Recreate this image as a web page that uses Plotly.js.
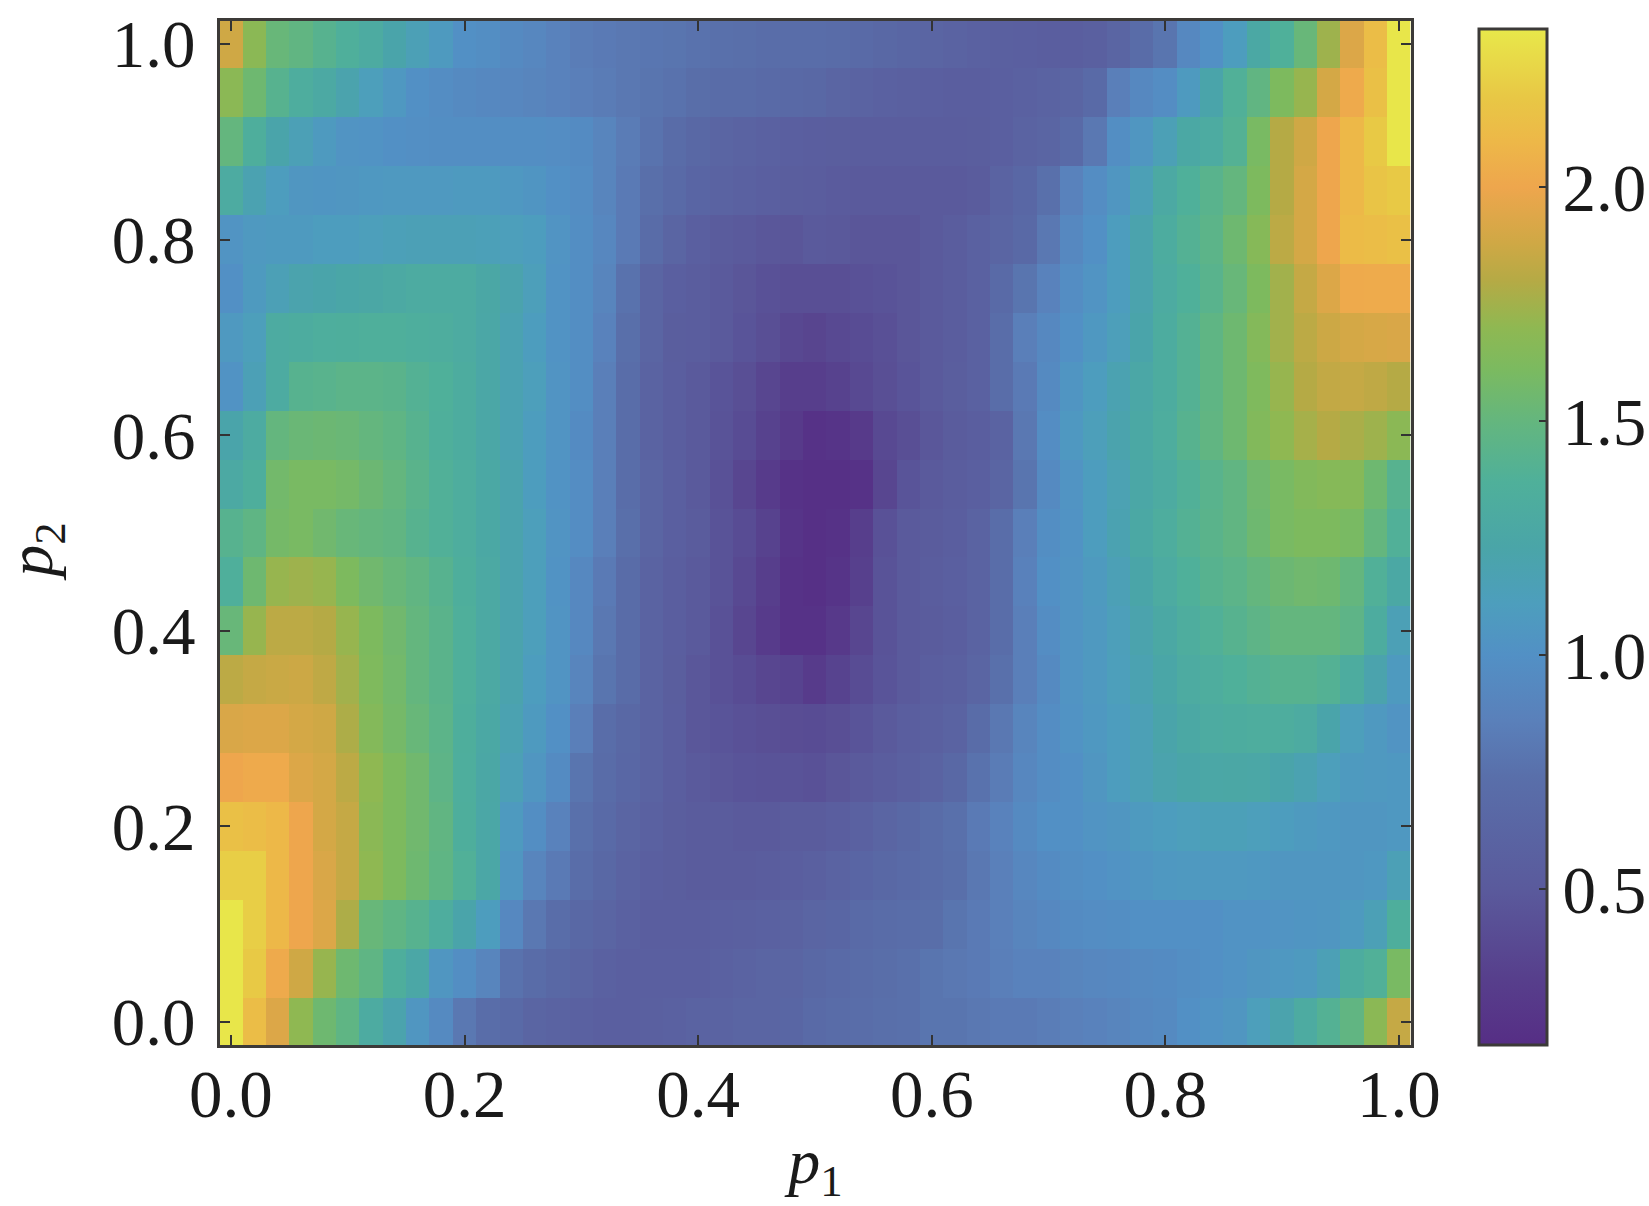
<!DOCTYPE html>
<html>
<head>
<meta charset="utf-8">
<script src="https://cdn.plot.ly/plotly-3.0.1.min.js"></script>
<style>html,body{margin:0;padding:0;background:#fff}</style>
</head>
<body>
<div id="chart" style="width:1649px;height:1206px"></div>
<script>
const p1Values = [0,.02,.04,.06,.08,.1,.12,.14,.16,.18,.2,.22,.24,.26,.28,.3,.32,.34,.36,.38,.4,.42,.44,.46,.48,.5,.52,.54,.56,.58,.6,.62,.64,.66,.68,.7,.72,.74,.76,.78,.8,.82,.84,.86,.88,.9,.92,.94,.96,.98,1];
const p2Values = [1,.95,.9,.85,.8,.75,.7,.65,.6,.55,.5,.45,.4,.35,.3,.25,.2,.15,.1,.05,0];
const surface = [
[1.88,1.68,1.52,1.48,1.42,1.36,1.3,1.22,1.15,1.08,1.0,.98,.95,.92,.88,.84,.82,.8,.79,.78,.76,.75,.74,.72,.72,.72,.7,.68,.66,.64,.62,.6,.58,.57,.56,.55,.55,.57,.62,.7,.78,.93,1.0,1.1,1.27,1.37,1.52,1.74,1.93,2.13,2.33],
[1.68,1.55,1.42,1.33,1.28,1.2,1.12,1.06,1.0,.97,.95,.93,.92,.9,.88,.85,.83,.8,.78,.76,.73,.71,.7,.68,.67,.66,.62,.6,.58,.57,.56,.55,.55,.56,.58,.6,.62,.68,.85,.93,.97,1.08,1.22,1.38,1.48,1.62,1.72,1.9,2.02,2.15,2.33],
[1.5,1.35,1.22,1.15,1.08,1.03,1.02,1.0,.99,.98,.98,.98,.98,.98,.97,.96,.9,.83,.77,.7,.66,.62,.6,.58,.56,.55,.54,.53,.53,.53,.53,.53,.54,.56,.6,.62,.68,.8,.98,1.05,1.15,1.27,1.3,1.4,1.6,1.8,1.88,2.0,2.1,2.2,2.33],
[1.3,1.18,1.1,1.05,1.04,1.05,1.06,1.07,1.07,1.07,1.08,1.08,1.06,1.04,1.0,.97,.9,.82,.74,.68,.63,.6,.58,.56,.54,.53,.51,.5,.5,.5,.5,.5,.52,.6,.65,.75,.88,.97,1.05,1.15,1.28,1.37,1.43,1.5,1.62,1.8,1.9,2.0,2.1,2.17,2.2],
[1.03,1.07,1.08,1.08,1.1,1.1,1.12,1.14,1.15,1.15,1.15,1.14,1.12,1.1,1.03,.98,.92,.82,.7,.62,.56,.52,.5,.48,.47,.5,.49,.47,.47,.47,.5,.53,.58,.62,.67,.8,.93,1.0,1.1,1.2,1.32,1.4,1.45,1.55,1.66,1.82,1.9,2.0,2.12,2.13,2.15],
[1.0,1.08,1.15,1.2,1.22,1.24,1.26,1.28,1.3,1.3,1.3,1.26,1.2,1.13,1.02,.98,.9,.76,.62,.56,.53,.5,.47,.44,.42,.42,.42,.44,.45,.47,.5,.53,.58,.68,.78,.88,.97,1.03,1.1,1.2,1.3,1.37,1.43,1.52,1.62,1.75,1.85,1.93,2.02,2.03,2.03],
[1.07,1.12,1.3,1.32,1.34,1.35,1.36,1.36,1.34,1.33,1.3,1.25,1.18,1.1,1.02,.98,.88,.74,.62,.54,.53,.5,.46,.42,.37,.35,.38,.4,.43,.47,.5,.53,.58,.72,.85,.93,1.0,1.06,1.13,1.22,1.32,1.4,1.47,1.55,1.65,1.75,1.82,1.87,1.9,1.91,1.92],
[1.02,1.15,1.3,1.42,1.43,1.45,1.45,1.44,1.4,1.37,1.32,1.25,1.18,1.12,1.03,.98,.85,.72,.6,.55,.5,.46,.42,.36,.3,.3,.33,.38,.42,.46,.5,.54,.58,.72,.82,.95,1.04,1.1,1.18,1.25,1.32,1.4,1.47,1.55,1.63,1.72,1.8,1.84,1.85,1.83,1.8],
[1.22,1.3,1.5,1.53,1.54,1.53,1.5,1.47,1.42,1.36,1.32,1.25,1.18,1.1,1.03,.96,.85,.72,.6,.55,.5,.45,.4,.33,.27,.2,.22,.27,.38,.42,.48,.52,.55,.6,.8,.97,1.06,1.13,1.2,1.27,1.33,1.42,1.48,1.55,1.64,1.7,1.76,1.8,1.77,1.74,1.68],
[1.28,1.35,1.57,1.6,1.6,1.58,1.54,1.5,1.44,1.38,1.33,1.27,1.2,1.1,1.02,.97,.85,.72,.62,.56,.5,.44,.36,.28,.2,.18,.18,.2,.36,.46,.5,.53,.56,.62,.78,.95,1.03,1.1,1.17,1.25,1.3,1.38,1.43,1.48,1.56,1.6,1.64,1.66,1.66,1.55,1.42],
[1.42,1.47,1.58,1.6,1.56,1.52,1.5,1.48,1.42,1.38,1.33,1.27,1.2,1.12,1.03,.97,.85,.74,.62,.56,.52,.45,.4,.33,.22,.18,.2,.3,.44,.5,.52,.55,.6,.72,.85,.98,1.02,1.1,1.18,1.27,1.33,1.4,1.44,1.48,1.55,1.6,1.62,1.62,1.6,1.5,1.38],
[1.36,1.55,1.72,1.74,1.72,1.62,1.56,1.52,1.48,1.42,1.35,1.28,1.2,1.12,1.02,.93,.82,.7,.6,.55,.5,.45,.38,.3,.2,.18,.22,.32,.45,.5,.53,.56,.6,.72,.87,1.0,1.03,1.08,1.15,1.23,1.3,1.37,1.42,1.45,1.5,1.54,1.56,1.55,1.5,1.38,1.27],
[1.52,1.72,1.82,1.82,1.8,1.72,1.62,1.56,1.5,1.44,1.36,1.28,1.2,1.12,1.03,.93,.8,.7,.6,.55,.5,.44,.36,.28,.2,.2,.26,.36,.45,.5,.52,.55,.6,.72,.85,.97,1.03,1.07,1.13,1.2,1.27,1.33,1.38,1.42,1.46,1.5,1.5,1.5,1.46,1.32,1.15],
[1.82,1.85,1.86,1.87,1.83,1.75,1.63,1.57,1.5,1.44,1.36,1.28,1.2,1.1,1.03,.9,.78,.7,.6,.54,.48,.44,.4,.36,.34,.28,.34,.4,.46,.5,.55,.57,.62,.75,.85,.95,1.03,1.07,1.12,1.18,1.24,1.3,1.33,1.37,1.4,1.42,1.42,1.4,1.32,1.2,1.08],
[1.92,1.93,1.93,1.9,1.88,1.78,1.65,1.58,1.52,1.45,1.35,1.27,1.18,1.08,1.0,.85,.72,.66,.6,.55,.48,.46,.44,.42,.41,.4,.42,.46,.5,.55,.57,.6,.7,.8,.9,.97,1.02,1.06,1.1,1.15,1.22,1.27,1.3,1.32,1.33,1.33,1.3,1.22,1.12,1.07,1.03],
[2.0,2.02,2.02,1.93,1.9,1.82,1.7,1.62,1.56,1.46,1.34,1.26,1.15,1.05,.96,.78,.7,.65,.6,.55,.5,.48,.46,.45,.45,.44,.47,.5,.53,.57,.6,.66,.76,.83,.92,.97,1.0,1.05,1.1,1.15,1.2,1.23,1.25,1.26,1.25,1.22,1.18,1.12,1.08,1.07,1.06],
[2.15,2.13,2.1,2.0,1.9,1.85,1.68,1.62,1.56,1.48,1.35,1.25,1.08,.98,.88,.75,.68,.62,.58,.54,.52,.52,.5,.5,.52,.52,.55,.58,.62,.66,.7,.75,.82,.88,.95,1.0,1.0,1.03,1.05,1.08,1.1,1.12,1.14,1.14,1.12,1.1,1.08,1.06,1.05,1.05,1.06],
[2.22,2.22,2.1,2.0,1.92,1.85,1.7,1.62,1.55,1.47,1.38,1.25,1.05,.9,.82,.72,.66,.6,.56,.54,.52,.52,.52,.53,.55,.57,.6,.63,.66,.68,.7,.74,.8,.86,.92,.96,.98,1.0,1.02,1.04,1.06,1.07,1.07,1.07,1.06,1.05,1.05,1.05,1.05,1.06,1.15],
[2.33,2.22,2.1,2.0,1.93,1.78,1.52,1.47,1.42,1.33,1.22,1.1,.93,.8,.72,.66,.62,.58,.55,.55,.55,.56,.57,.58,.59,.62,.64,.68,.7,.72,.73,.78,.82,.86,.9,.93,.96,.97,.98,1.0,1.0,1.0,1.0,1.02,1.02,1.03,1.04,1.05,1.08,1.15,1.35],
[2.33,2.2,2.02,1.88,1.72,1.55,1.47,1.35,1.25,1.05,.98,.9,.76,.7,.66,.62,.58,.56,.56,.56,.56,.58,.6,.62,.62,.66,.68,.7,.73,.75,.78,.8,.82,.85,.88,.88,.9,.92,.93,.95,.96,.98,1.0,1.02,1.05,1.06,1.08,1.15,1.32,1.38,1.6],
[2.33,2.13,1.93,1.7,1.55,1.47,1.3,1.2,1.05,.95,.8,.72,.68,.62,.6,.58,.56,.56,.57,.58,.6,.6,.62,.62,.64,.68,.7,.72,.74,.75,.78,.78,.8,.82,.82,.84,.86,.88,.9,.93,.95,1.0,1.02,1.05,1.12,1.2,1.3,1.4,1.48,1.68,1.85]
];
const xTickVals = [0,.2,.4,.6,.8,1];
const xTickText = ['0.0','0.2','0.4','0.6','0.8','1.0'];
const yTickVals = [0,.2,.4,.6,.8,1];
const yTickText = ['0.0','0.2','0.4','0.6','0.8','1.0'];
const barTickVals = [.5,1,1.5,2];
const barTickText = ['0.5','1.0','1.5','2.0'];
const zMin = 0.167, zMax = 2.338;
const stopValues = [0.167,0.31,0.5,0.74,0.86,1.0,1.11,1.23,1.37,1.5,1.61,1.7,1.8,1.88,2.0,2.1,2.19,2.338];
const stopColors = ['#562e85','#573f8c','#5a5a9c','#596faa','#5a80ba','#5290c5','#4d9ebd','#4aa5a8','#4fb09a','#64b67e','#7bba60','#8fb852','#b5aa45','#cfa845','#eea64d','#edb848','#e8c745','#e8e84a'];
const colorscale = stopValues.map((v,i)=>[(v-zMin)/(zMax-zMin),stopColors[i]]);
const serif = '"Liberation Serif", "Times New Roman", serif';
const axisBase = {
  showgrid:false, zeroline:false, showline:true, linecolor:'#3c3a38', linewidth:3, mirror:'ticks',
  ticks:'inside', ticklen:10, tickwidth:2, tickcolor:'#333', tickfont:{family:serif,size:67,color:'#1a1a1a'}
};
const trace = {
  type:'heatmap', x:p1Values, y:p2Values, z:surface, zmin:zMin, zmax:zMax, colorscale:colorscale, zsmooth:false,
  colorbar:{
    x:1.057, xanchor:'left', xpad:0, y:0, yanchor:'bottom', ypad:0,
    thicknessmode:'pixels', thickness:68, lenmode:'pixels', len:1016,
    outlinewidth:3, outlinecolor:'#3c3a38', ticks:'inside', ticklen:9, tickwidth:2, tickcolor:'#333',
    tickvals:barTickVals, ticktext:barTickText, tickfont:{family:serif,size:67,color:'#1a1a1a'}
  }
};
const layout = {
  width:1649, height:1206, paper_bgcolor:'#fff', plot_bgcolor:'#fff',
  margin:{l:220,r:238,t:21,b:161,autoexpand:false},
  font:{family:serif},
  xaxis:Object.assign({},axisBase,{range:[-0.0094,1.0103],tickvals:xTickVals,ticktext:xTickText,ticklabelstandoff:-11,
    title:{text:'<i>p</i><sub>1</sub>',font:{family:serif,size:64,color:'#1a1a1a'},standoff:25}}),
  yaxis:Object.assign({},axisBase,{range:[-0.0235,1.0235],tickvals:yTickVals,ticktext:yTickText,ticklabelstandoff:8}),
  annotations:[{text:'<i>p</i><sub>2</sub>',xref:'paper',yref:'paper',x:-0.155,y:0.482,xanchor:'center',yanchor:'middle',
    textangle:-90,showarrow:false,font:{family:serif,size:64,color:'#1a1a1a'}}]
};
Plotly.newPlot('chart',[trace],layout,{displayModeBar:false,responsive:false});
</script>
</body>
</html>
